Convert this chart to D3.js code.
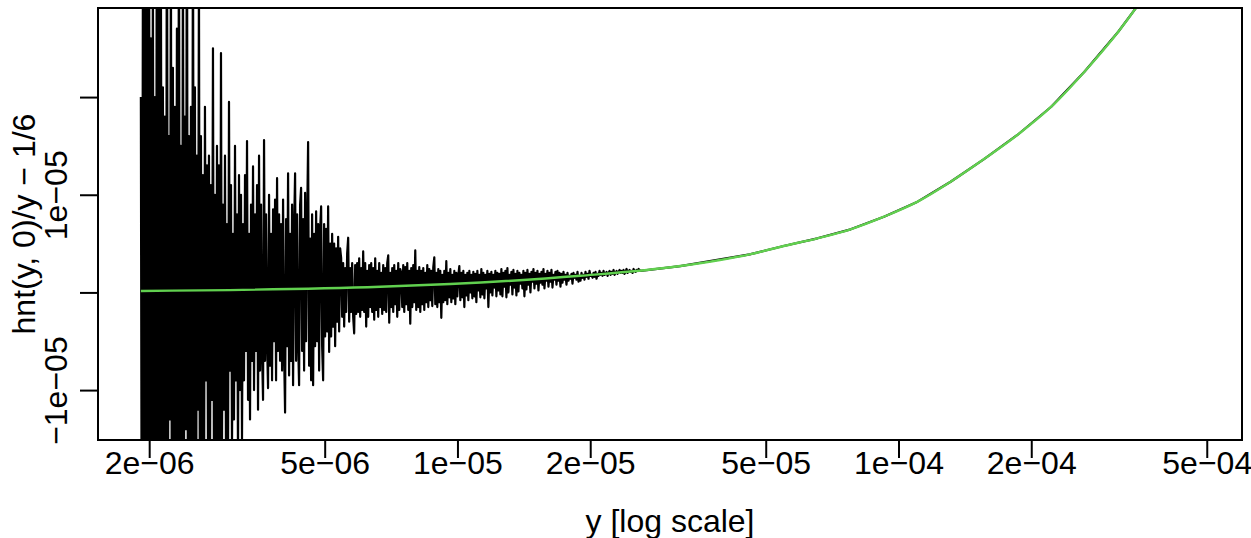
<!DOCTYPE html>
<html>
<head>
<meta charset="utf-8">
<script src="https://cdn.jsdelivr.net/npm/d3@7"></script>
<style>
  body { margin: 0; background: #fff; }
  svg { display: block; font-family: "Liberation Sans", Arial, sans-serif; }
</style>
</head>
<body>
<div id="chart"></div>
<script>
// y values where hnt() was evaluated (log spaced, ~1px apart)
const gridFrom = 1.915e-6;
const gridLogStep = 0.0022707;

// noisy part of hnt(y, 0)/y - 1/6, in units of 1e-7
const noisyVals = [
  // 2e-06 ..
  200, -380, 310, -260, 450, -200, 380, -330, 520, -170, 260, -410, 350, -300, 200, -250, 480, -360, 290, -220,
  330, -150, 210, -290, 180, -370, 500, -240, 160, -130, 360, -310, 230, -420, 190, -180, 270, -340, 440, -260,
  150, -300, 370, -210, 180, -140, 470, -280, 160, -390, 190, -230, 400, -160, 210, -350, 140, -120, 330, -270,
  160, -180, 120, -250, 190, -90, 130, -160, 140, -200, 110, -110, 250, -200, 100, -230, 150, -150, 130, -260,
  245, -160, 90, -120, 140, -170, 70, -190, 195, -80, 110, -160, 60, -130, 150, -90, 80, -170, 120, -100,
  // 3.4e-06 ..
  100, -150, 70, -90, 120, -60, 155, -110, 60, -130, 90, -70, 129, -100, 80, -60, 110, -120, 140, -80,
  90, -60, -110, 156, -70, 80, -50, -98, 100, -75, 60, -90, 85, -50, 95, -90, 117, -60, 80, -70,
  70, -80, 95, -60, -123, 75, -55, 122, -85, 60, -70, 90, -95, 65, 122, -70, 80, -50, -95, 90,
  107, -60, 75, -80, 102, -50, 70, 154, -75, 55, -90, 80, -95, 60, -55, 83, -50, 70, -80, 65,
  88, -55, -90, 70, -45, 65, -40, 88, -61, 50, -45, 60, -35, 50, -55, 45, -30, 57, -40, 45,
  // 6e-06 ..
  35, -25, 30, -35, 25, -20, 40, 56, -30, 25, -20, 30, -25, -42, 28, -22, 30, -20, 35, -25,
  25, -18, 42, -20, 30, -35, 22, -25, 28, -15, 30, -20, 25, -28, 35, -18, 22, -25, 30, -15,
  20, -22, 28, -18, 25, -20, 30, 38, -31, 20, -15, 25, -20, 28, -12, 22, -25, 30, -18, 24,
  20, -15, 28, -20, 26, -12, 30, -18, 22, -32, 25, -15, 28, -10, 43, -18, 22, -15, 26, -20,
  22, -12, 25, -18, 20, -10, 28, -15, 24, -8, 22, -14, 26, 36, -12, 20, -15, 24, -10, 22,
  // 1e-05 ..
  -26, 18, -10, 22, -8, 32, -12, 20, -5, 24, -10, 18, -6, 22, -12, 20, -4, 18, 27, -8,
  20, -5, 22, -15, 18, -3, 20, -8, 22, 0, 18, -6, 21, -4, 19, -10, 22, 2, 18, -5,
  24, -2, 20, -6, 18, 4, 22, -15, 19, 0, 21, -3, 18, 5, 22, -4, 20, 2, 19, -2,
  24, -4, 20, 6, 22, -5, 25, 0, 18, 8, 21, -2, 23, 5, 19, -3, 22, 1, 20, 9,
  18, 4, 22, -4, 20, 3, 23, 8, 19, 0, 21, 11, 24, 4, 20, 9, 22, 2, 19, 10,
  // 1.7e-05 ..
  21, 8, 24, 4, 19, 12, 22, 6, 20, 11, 23, 5, 18, 13, 21, 8, 22, 12, 20, 6,
  19, 10, 21, 13, 18, 8, 20, 12, 17, 14, 19, 9, 20, 15, 18, 13, 21, 11, 17, 12,
  20, 15, 18, 13, 21, 16, 19, 14, 22, 17, 18, 15, 20, 16, 21, 14, 19, 17, 22, 18,
  20, 17, 22, 18, 19, 21, 17, 20, 22, 18, 21, 19, 23, 18, 20, 22, 19, 21, 23, 20,
  22, 20, 23, 19, 21, 24, 20, 22, 23, 21, 22, 20, 24, 22, 21, 23, 22, 24, 23, 22
];

// smooth curve (green); values in units of 1e-6
const smoothY = [1.915e-6, 6.68e-6, 9.63e-6, 1.9e-5, 3.2e-5, 4.6e-5, 5.49e-5, 6.55e-5, 7.79e-5,
  9.27e-5, 1.105e-4, 1.313e-4, 1.56e-4, 1.86e-4, 2.22e-4, 2.64e-4, 3.15e-4, 3.45e-4, 4.0e-4, 4.82e-4];
const smoothV = [0.14, 0.58, 0.86, 1.7, 2.7, 3.9, 4.75, 5.54, 6.46,
  7.75, 9.29, 11.33, 13.63, 16.12, 19.01, 22.6, 26.69, 29.09, 33.5, 40.5];

const xTicks = [2e-6, 5e-6, 1e-5, 2e-5, 5e-5, 1e-4, 2e-4, 5e-4];
const xTickLabels = ["2e\u221206", "5e\u221206", "1e\u221205", "2e\u221205", "5e\u221205", "1e\u221204", "2e\u221204", "5e\u221204"];
const yTicks = [-1e-5, 0, 1e-5, 2e-5];
const yTickLabels = ["\u22121e\u221205", "", "1e\u221205", ""];

const W = 1251, H = 538;
const margin = {top: 8, right: 9, bottom: 98, left: 98};
const fontSize = 32;

const svg = d3.select("#chart").append("svg")
  .attr("width", W).attr("height", H);

const x = d3.scaleLog()
  .domain([1.531e-6, 6.01e-4])
  .range([margin.left, W - margin.right]);
const y = d3.scaleLinear()
  .domain([-1.511e-5, 2.912e-5])
  .range([H - margin.bottom, margin.top]);

// clip to plot region
svg.append("clipPath").attr("id", "plotclip")
  .append("rect")
  .attr("x", margin.left).attr("y", margin.top)
  .attr("width", W - margin.left - margin.right)
  .attr("height", H - margin.top - margin.bottom);

const noisy = noisyVals.map((v, i) => ({
  y: gridFrom * Math.pow(10, i * gridLogStep),
  v: v * 1e-7
}));
const smooth = smoothY.map((yy, i) => ({y: yy, v: smoothV[i] * 1e-6}));
const tail = smooth.filter(d => d.y >= 3.2e-5);

const g = svg.append("g").attr("clip-path", "url(#plotclip)");

const lineLin = d3.line().x(d => x(d.y)).y(d => y(d.v));
const lineSmooth = d3.line().x(d => x(d.y)).y(d => y(d.v)).curve(d3.curveMonotoneX);

// black: computed hnt
g.append("path")
  .datum(noisy.concat(tail))
  .attr("fill", "none")
  .attr("stroke", "#000")
  .attr("stroke-width", 2.2)
  .attr("stroke-linejoin", "round")
  .attr("d", lineLin);

// green: approximation
g.append("path")
  .datum(smooth)
  .attr("fill", "none")
  .attr("stroke", "#61D04F")
  .attr("stroke-width", 2.4)
  .attr("d", lineSmooth);

// box
svg.append("rect")
  .attr("x", margin.left).attr("y", margin.top)
  .attr("width", W - margin.left - margin.right)
  .attr("height", H - margin.top - margin.bottom)
  .attr("fill", "none")
  .attr("stroke", "#000")
  .attr("stroke-width", 2);

// x axis
const xAxis = svg.append("g")
  .attr("transform", `translate(0,${H - margin.bottom})`)
  .call(d3.axisBottom(x).tickValues(xTicks).tickFormat((d, i) => xTickLabels[i]).tickSize(18).tickSizeOuter(0));
xAxis.select(".domain").remove();
xAxis.selectAll("line").attr("stroke", "#000").attr("stroke-width", 2);
xAxis.selectAll("text")
  .attr("y", 34).attr("dy", 0)
  .attr("fill", "#000")
  .style("font-size", fontSize + "px")
  .style("font-family", "Liberation Sans, Arial, sans-serif");

// y axis
const yAxis = svg.append("g")
  .attr("transform", `translate(${margin.left},0)`)
  .call(d3.axisLeft(y).tickValues(yTicks).tickFormat((d, i) => yTickLabels[i]).tickSize(18).tickSizeOuter(0));
yAxis.select(".domain").remove();
yAxis.selectAll("line").attr("stroke", "#000").attr("stroke-width", 2);
yAxis.selectAll("text")
  .attr("x", 0).attr("dy", 0)
  .attr("text-anchor", "middle")
  .attr("transform", "translate(-31,0) rotate(-90)")
  .attr("fill", "#000")
  .style("font-size", fontSize + "px")
  .style("font-family", "Liberation Sans, Arial, sans-serif");

// axis titles
svg.append("text")
  .attr("x", (margin.left + W - margin.right) / 2)
  .attr("y", 532)
  .attr("text-anchor", "middle")
  .style("font-size", fontSize + "px")
  .text("y [log scale]");

svg.append("text")
  .attr("transform", `translate(35,${(margin.top + H - margin.bottom) / 2}) rotate(-90)`)
  .attr("text-anchor", "middle")
  .style("font-size", fontSize + "px")
  .text("hnt(y, 0)/y \u2212 1/6");
</script>
</body>
</html>
